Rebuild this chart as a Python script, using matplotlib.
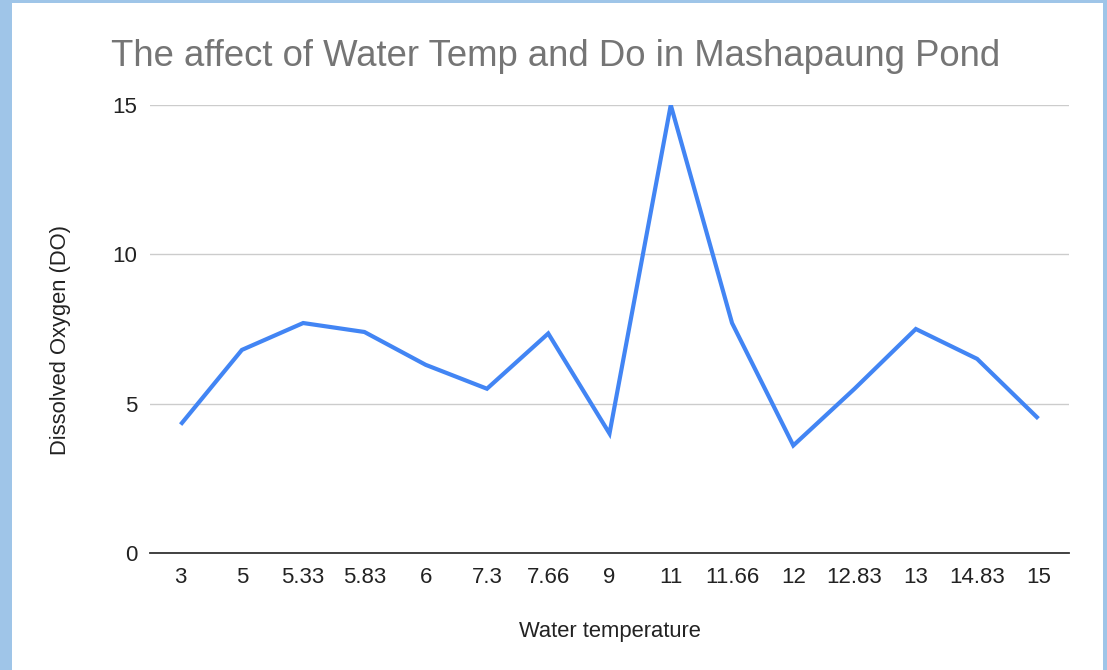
import matplotlib
matplotlib.use("Agg")
import matplotlib.pyplot as plt
from matplotlib.patches import Rectangle

categories = ["3", "5", "5.33", "5.83", "6", "7.3", "7.66", "9", "11",
              "11.66", "12", "12.83", "13", "14.83", "15"]
do_values = [4.3, 6.8, 7.7, 7.4, 6.3, 5.5, 7.35, 4.0, 15.0,
             7.7, 3.6, 5.5, 7.5, 6.5, 4.5]
y_ticks = [0, 5, 10, 15]

plt.rcParams['font.family'] = ['Liberation Sans', 'DejaVu Sans']

W, H = 1107, 670
fig = plt.figure(figsize=(W / 100, H / 100), dpi=100)
fig.patch.set_facecolor("white")

border = "#9fc5e8"
fig.patches.append(Rectangle((0, 0), 12 / W, 1, transform=fig.transFigure,
                             facecolor=border, edgecolor="none", zorder=0))
fig.patches.append(Rectangle((0, 1 - 3 / H), 1, 3 / H, transform=fig.transFigure,
                             facecolor=border, edgecolor="none", zorder=0))
fig.patches.append(Rectangle((1 - 4 / W, 0), 4 / W, 1, transform=fig.transFigure,
                             facecolor=border, edgecolor="none", zorder=0))

left, right = 150, 1069
top, bottom = 105, 553
ax = fig.add_axes([left / W, 1 - bottom / H, (right - left) / W, (bottom - top) / H])

x = list(range(len(categories)))
ax.plot(x, do_values, color="#4285f4", linewidth=3, solid_joinstyle="miter",
        solid_capstyle="butt", zorder=3)

ax.set_xlim(-0.5, len(categories) - 0.5)
ax.set_ylim(0, 15)
ax.set_yticks(y_ticks)
ax.set_yticklabels([str(v) for v in y_ticks])
ax.set_xticks(x)
ax.set_xticklabels(categories)
ax.grid(axis="y", color="#cccccc", linewidth=1)
ax.set_axisbelow(True)
for s in ["top", "right", "left"]:
    ax.spines[s].set_visible(False)
ax.spines["bottom"].set_color("#333333")
ax.spines["bottom"].set_linewidth(1.3)
ax.spines["bottom"].set_zorder(4)
ax.tick_params(axis="both", length=0, labelsize=16, colors="#222222")
ax.tick_params(axis="y", pad=9)
ax.tick_params(axis="x", pad=10)

ax.set_xlabel("Water temperature", fontsize=15.8, color="#222222", labelpad=24)
ax.set_ylabel("Dissolved Oxygen (DO)", fontsize=15.8, color="#222222", labelpad=30,
              y=0.475)

fig.text(111 / W, 1 - 56 / H, "The affect of Water Temp and Do in Mashapaung Pond",
         fontsize=26.3, color="#757575", ha="left", va="center")

fig.savefig("out.png", dpi=100, facecolor="white")
